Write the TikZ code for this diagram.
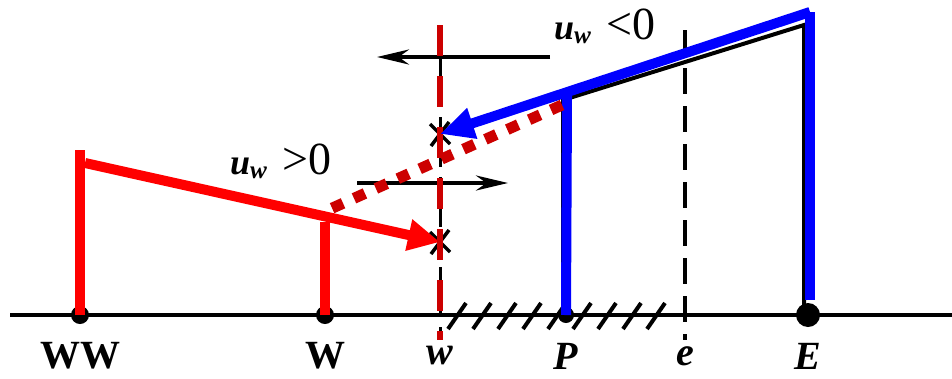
\documentclass[tikz,border=0pt]{standalone}
\usepackage{fontspec}
\setmainfont{Liberation Serif}
\usetikzlibrary{arrows.meta,positioning}
\definecolor{MarkRed}{RGB}{255,0,0}
\definecolor{DotRed}{RGB}{204,0,0}
\definecolor{FluxBlue}{RGB}{0,0,255}

\begin{document}
\begin{tikzpicture}[x=1pt,y=-1pt,
  lbl/.style={font=\fontsize{40}{42}\selectfont\bfseries,inner sep=0pt},
  ilbl/.style={lbl,font=\fontsize{40}{42}\selectfont\bfseries\itshape},
  ulbl/.style={inner sep=0pt,font=\fontsize{46}{48}\selectfont},
  scan/.style={line width=4pt,black},
  redbar/.style={line width=10pt,MarkRed},
  bluebar/.style={line width=10pt,FluxBlue},
  dimarrow/.style={line width=4pt,black,-{Stealth[length=32pt,width=15pt]}}
]
  \useasboundingbox (0,0) rectangle (952,378);
  % grid points on the axis
  \coordinate (WW) at (80,315);
  \coordinate (W) at (325,315);
  \coordinate (w) at (440,315);
  \coordinate (P) at (566,315);
  \coordinate (e) at (685,315);
  \coordinate (E) at (808,315);
  \coordinate (axL) at (10,315);
  \coordinate (axR) at (952,315);

  % axis, boundary hatching, dashed faces
  \draw[scan] (axL) -- (axR);
  \foreach \hx in {457,482,507,532,557,582,607,632,656}
    \draw[line width=4pt] (\hx-9,329) -- (\hx+9,303);
  \coordinate (eT) at (685,30);
  \coordinate (eB) at (685,340);
  \draw[scan,dash pattern=on 26pt off 12pt] (eT) -- (eB);
  \coordinate (wT) at (440,57);
  \coordinate (wB) at (440,340);
  \draw[line width=3pt,dash pattern=on 20pt off 10pt] (wT) -- (wB);

  % original black profile P--E
  \coordinate (Pb) at (563,100);
  \coordinate (Eb) at (804,25);
  \draw[scan] (563,315) -- (Pb) -- (Eb) -- (804,315);

  % dots
  \fill (WW) circle (9pt);
  \fill (W) circle (9pt);
  \fill (P) circle (8pt);
  \fill (E) circle (12pt);

  % velocity arrows at the face
  \coordinate (a1s) at (550,57);
  \coordinate (a1e) at (377,57);
  \draw[dimarrow] (a1s) -- (a1e);
  \coordinate (a2s) at (357,183);
  \coordinate (a2e) at (508,183);
  \draw[dimarrow] (a2s) -- (a2e);

  % crosses at the face
  \coordinate (xU) at (440,134);
  \coordinate (xL) at (440,242);
  \foreach \c in {xU,xL}
    \draw[line width=3.5pt] ([shift={(-10,-10)}]\c) -- ([shift={(10,10)}]\c)
                            ([shift={(-9,12)}]\c) -- ([shift={(9,-12)}]\c);

  % red profile (u_w > 0)
  \coordinate (WWt) at (80,150);
  \coordinate (WWs) at (85,163);
  \coordinate (Wt) at (325,222);
  \draw[redbar] (WW) -- (WWt);
  \draw[redbar] (W) -- (Wt);
  \draw[redbar,-{Triangle[length=32pt,width=30pt]}] (WWs) -- (xL);

  % red dashed face
  \coordinate (wt) at (440,25);
  \draw[line width=6pt,DotRed,dash pattern=on 31pt off 20pt] (wt) -- (wB);

  % blue profile (u_w < 0)
  \coordinate (Pt) at (567,96);
  \coordinate (Et) at (810,12);
  \draw[bluebar] (P) -- (Pt);
  \draw[bluebar] (810,300) -- (Et);
  \draw[bluebar,-{Triangle[length=34pt,width=30pt]}] (Et) -- (xU);

  % dotted extrapolation
  \coordinate (dS) at (562,105);
  \coordinate (dE) at (328,210);
  \draw[line width=11pt,DotRed,dash pattern=on 12pt off 12pt] (dS) -- (dE);

  % labels
  \node[lbl] (lWW) at (80,356) {WW};
  \node[lbl] (lW) at (325,356) {W};
  \node[ilbl] (lw) at (440,356) {w};
  \node[ilbl] (lP) at (566,356) {P};
  \node[ilbl] (le) at (685,356) {e};
  \node[ilbl] (lE) at (808,356) {E};
  \node[ulbl] (uneg) at (605,26)
    {{\fontsize{36}{38}\selectfont\bfseries\itshape u\textsubscript{w}}\,\,<0};
  \node[ulbl] (upos) at (281,161)
    {{\fontsize{36}{38}\selectfont\bfseries\itshape u\textsubscript{w}}\,\,>0};
\end{tikzpicture}
\end{document}
